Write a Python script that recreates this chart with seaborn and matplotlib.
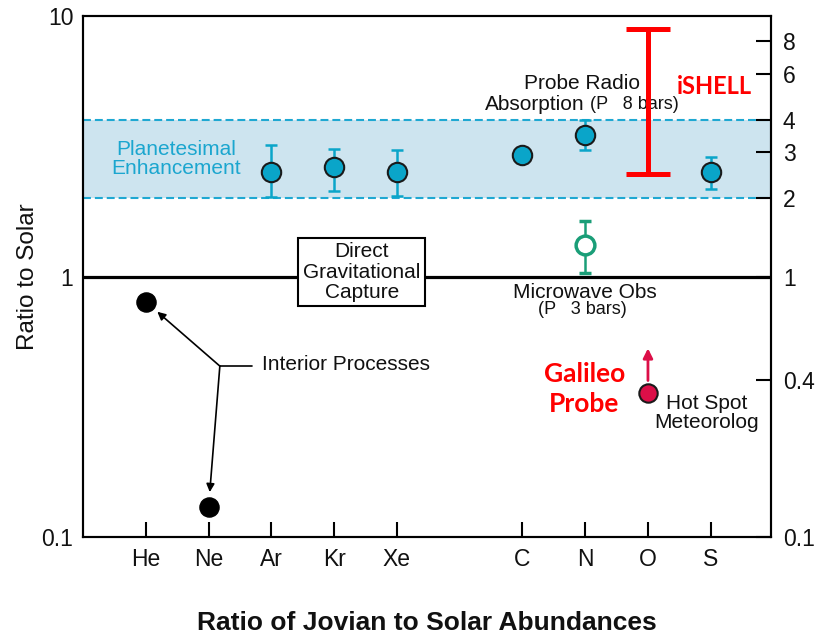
import numpy as np
import pandas as pd
import matplotlib
matplotlib.use("Agg")
import matplotlib.pyplot as plt
from matplotlib.ticker import NullLocator, FixedLocator, FixedFormatter
import seaborn as sns

# ---------------- data ----------------
elements = ['He', 'Ne', 'Ar', 'Kr', 'Xe', 'C', 'N', 'O', 'S']

interior_elements = ['He', 'Ne']
interior_values = [0.80, 0.13]

enh_elements = ['Ar', 'Kr', 'Xe', 'C', 'N', 'S']
enh_values = [2.52, 2.63, 2.52, 2.93, 3.49, 2.52]
enh_low = [2.02, 2.13, 2.04, np.nan, 3.06, 2.17]
enh_high = [3.20, 3.09, 3.06, np.nan, 3.99, 2.88]

microwave_element = 'N'
microwave_value = 1.32
microwave_range = [1.03, 1.63]

galileo_element = 'O'
galileo_value = 0.357
galileo_arrow_to = 0.53

ishell_element = 'O'
ishell_range = [2.47, 8.9]

band_range = [2.0, 4.0]

left_ticks = [0.1, 1, 10]
left_labels = ['0.1', '1', '10']
right_ticks = [0.1, 0.4, 1, 2, 3, 4, 6, 8]
right_labels = ['0.1', '0.4', '1', '2', '3', '4', '6', '8']

# ---------------- style ----------------
sns.set_style("white")
plt.rcParams['font.family'] = ['Liberation Sans', 'DejaVu Sans']
plt.rcParams['text.color'] = 'black'
plt.rcParams['axes.labelcolor'] = 'black'
plt.rcParams['xtick.color'] = 'black'
plt.rcParams['ytick.color'] = 'black'

CYAN = '#0aa5c9'
CYAN_TXT = '#1ba6cf'
BAND = '#cde4ef'
DASH = '#1fa8d2'
GREEN = '#1a9e78'
CRIMSON = '#dc0f48'
RED = '#ff0000'
TXT = '#111111'

# categorical positions with a gap between noble gases and heavy elements
pos = {e: i + 1 + (1 if i >= 5 else 0) for i, e in enumerate(elements)}

fig = plt.figure(figsize=(8.17, 6.34), dpi=100)
ax = fig.add_axes([83 / 817, 1 - 537 / 634, 688 / 817, 521 / 634])
ax.set_yscale('log')
ax.set_ylim(0.1, 10)
ax.set_xlim(0, 10.96)

# band
ax.axhspan(band_range[0], band_range[1], color=BAND, zorder=0, lw=0)
for yv in band_range:
    ax.axhline(yv, color=DASH, lw=1.5, ls=(0, (3.8, 1.9)), zorder=1)

# solar line
ax.axhline(1, color='black', lw=2.3, zorder=2)

# enhancement error bars
ex = np.array([pos[e] for e in enh_elements], dtype=float)
ev = np.array(enh_values)
lo = np.array(enh_low)
hi = np.array(enh_high)
m = ~np.isnan(lo)
ax.errorbar(ex[m], ev[m], yerr=[ev[m] - lo[m], hi[m] - ev[m]], fmt='none',
            ecolor=CYAN, elinewidth=1.8, capsize=4.5, capthick=1.8, zorder=3)

df_enh = pd.DataFrame({'x': ex, 'y': ev})
sns.scatterplot(data=df_enh, x='x', y='y', ax=ax, s=195, color=CYAN,
                edgecolor='#1a1a1a', linewidth=1.5, zorder=5, legend=False)

# interior
df_int = pd.DataFrame({'x': [pos[e] for e in interior_elements], 'y': interior_values})
sns.scatterplot(data=df_int, x='x', y='y', ax=ax, s=190, color='black',
                edgecolor='black', linewidth=1, zorder=5, legend=False)

# microwave
mx = pos[microwave_element]
ax.errorbar([mx], [microwave_value],
            yerr=[[microwave_value - microwave_range[0]], [microwave_range[1] - microwave_value]],
            fmt='o', ms=13.5, mfc='white', mec=GREEN, mew=2.5, ecolor=GREEN,
            elinewidth=1.8, capsize=4.5, capthick=1.8, zorder=5)

# iSHELL
ix = pos[ishell_element]
imid = np.sqrt(ishell_range[0] * ishell_range[1])
ax.errorbar([ix], [imid], yerr=[[imid - ishell_range[0]], [ishell_range[1] - imid]],
            fmt='none', ecolor=RED, elinewidth=3.6, capsize=15.5, capthick=3.6, zorder=4)

# Galileo
gx = pos[galileo_element]
ax.annotate('', xy=(gx, galileo_arrow_to), xytext=(gx, galileo_value),
            arrowprops=dict(arrowstyle='-|>', color=CRIMSON, lw=2, shrinkA=9, shrinkB=0,
                            mutation_scale=14), zorder=4)
df_gal = pd.DataFrame({'x': [gx], 'y': [galileo_value]})
sns.scatterplot(data=df_gal, x='x', y='y', ax=ax, s=175, color=CRIMSON,
                edgecolor='#1a1a1a', linewidth=1.5, zorder=6, legend=False)

# interior processes annotation
jx, jy = 2.18, 0.453
ax.plot([jx, 2.69], [jy, jy], color='black', lw=1.2, zorder=3)
for e, v in zip(interior_elements, interior_values):
    ax.annotate('', xy=(pos[e], v), xytext=(jx, jy),
                arrowprops=dict(arrowstyle='-|>', color='black', lw=1.2, shrinkA=0,
                                shrinkB=11, mutation_scale=12), zorder=3)
ax.text(2.85, 0.461, 'Interior Processes', fontsize=15, ha='left', va='center', color=TXT)

# texts
ax.text(4.44, 1.04, 'Direct\nGravitational\nCapture', fontsize=15, ha='center', va='center',
        linespacing=1.08, zorder=6, color=TXT,
        bbox=dict(boxstyle='square,pad=0.22', fc='white', ec='black', lw=1.5))
ax.text(1.48, 2.83, 'Planetesimal\nEnhancement', fontsize=15, ha='center', va='center',
        color=CYAN_TXT, linespacing=1.0)
ax.text(7.95, 5.53, 'Probe Radio', fontsize=15, ha='center', va='center', color=TXT)
ax.text(7.99, 4.57, 'Absorption', fontsize=15, ha='right', va='center', color=TXT)
ax.text(8.07, 4.57, '(P   8 bars)', fontsize=13, ha='left', va='center', color=TXT)
ax.text(8.0, 0.87, 'Microwave Obs', fontsize=15, ha='center', va='center', color=TXT)
ax.text(7.95, 0.745, '(P   3 bars)', fontsize=13, ha='center', va='center', color=TXT)
ax.text(9.94, 0.30, 'Hot Spot\nMeteorolog', fontsize=15, ha='center', va='center',
        linespacing=1.0, color=TXT)
ax.text(7.99, 0.37, 'Galileo\nProbe', fontsize=19, ha='center', va='center', color=RED,
        fontweight='bold', family=['Lato', 'DejaVu Sans'], linespacing=1.3)
ax.text(10.06, 5.34, 'iSHELL', fontsize=17, ha='center', va='center', color=RED,
        fontweight='bold', family=['Lato', 'DejaVu Sans'])

# axes / ticks
ax.set_xticks([pos[e] for e in elements])
ax.set_xticklabels(elements)
ax.yaxis.set_major_locator(FixedLocator(left_ticks))
ax.yaxis.set_major_formatter(FixedFormatter(left_labels))
ax.yaxis.set_minor_locator(NullLocator())
ax.tick_params(axis='y', length=0, pad=7, labelsize=16.5, labelcolor=TXT)
ax.tick_params(axis='x', direction='in', length=11, width=1.5, pad=8, labelsize=16.5,
               bottom=True, color='black', labelcolor=TXT)
for s in ax.spines.values():
    s.set_visible(True)
    s.set_color('black')
    s.set_linewidth(1.5)

ax2 = ax.twinx()
ax2.set_yscale('log')
ax2.set_ylim(0.1, 10)
ax2.yaxis.set_major_locator(FixedLocator(right_ticks))
ax2.yaxis.set_major_formatter(FixedFormatter(right_labels))
ax2.yaxis.set_minor_locator(NullLocator())
ax2.tick_params(axis='y', direction='in', length=11, width=1.5, pad=8.5, labelsize=16.5,
                right=True, color='black', labelcolor=TXT)
for s in ax2.spines.values():
    s.set_linewidth(1.5)
    s.set_color('black')

ax.set_ylabel('Ratio to Solar', fontsize=17.5, labelpad=2, color=TXT)
ax.set_xlabel('Ratio of Jovian to Solar Abundances', fontsize=19, fontweight='bold',
              labelpad=29, color=TXT)

fig.savefig('out.png', dpi=100)
